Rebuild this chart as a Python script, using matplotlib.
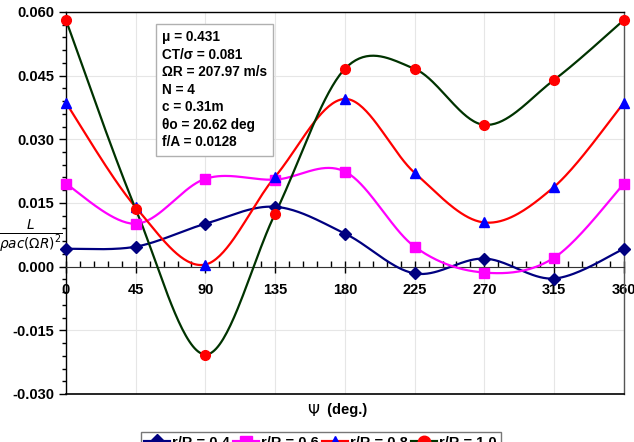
import numpy as np
import matplotlib
matplotlib.use("Agg")
import matplotlib.pyplot as plt
from matplotlib.ticker import MultipleLocator

psi = [0, 45, 90, 135, 180, 225, 270, 315, 360]
r04 = [0.0042, 0.0047, 0.0101, 0.0141, 0.0078, -0.0016, 0.0019, -0.0028, 0.0042]
r06 = [0.0195, 0.0101, 0.0207, 0.0205, 0.0224, 0.0047, -0.0014, 0.0021, 0.0195]
r08 = [0.0386, 0.0140, 0.0005, 0.0212, 0.0395, 0.0221, 0.0104, 0.0188, 0.0386]
r10 = [0.0581, 0.0136, -0.0207, 0.0125, 0.0466, 0.0466, 0.0334, 0.0440, 0.0581]
labels = ["r/R = 0.4", "r/R = 0.6", "r/R = 0.8", "r/R = 1.0"]
info = ["\u03bc = 0.431", "CT/\u03c3 = 0.081", "\u03a9R = 207.97 m/s", "N = 4",
        "c = 0.31m", "\u03b8o = 20.62 deg", "f/A = 0.0128"]

plt.rcParams['font.family'] = ['Liberation Sans', 'DejaVu Sans']


def smooth(x, y, n=40):
    x = np.asarray(x, float)
    y = np.asarray(y, float)
    px = np.concatenate([[x[0]], x, [x[-1]]])
    py = np.concatenate([[y[0]], y, [y[-1]]])
    xs, ys = [], []
    t = np.linspace(0, 1, n)
    for i in range(1, len(px) - 2):
        p0, p1, p2, p3 = (np.array([px[j], py[j]]) for j in (i - 1, i, i + 1, i + 2))
        c1 = p1 + (p2 - p0) / 6.0
        c2 = p2 - (p3 - p1) / 6.0
        b = ((1 - t) ** 3)[:, None] * p1 + (3 * (1 - t) ** 2 * t)[:, None] * c1 \
            + (3 * (1 - t) * t ** 2)[:, None] * c2 + (t ** 3)[:, None] * p2
        xs.append(b[:, 0]); ys.append(b[:, 1])
    return np.concatenate(xs), np.concatenate(ys)


fig = plt.figure(figsize=(6.34, 4.42), dpi=100)
ax = fig.add_axes([0.104, 0.1086, 0.88, 0.8644])

series = [
    (r04, '#000080', '#000080', 'D', 6),
    (r06, '#FF00FF', '#FF00FF', 's', 7),
    (r08, '#FF0000', '#0000FF', '^', 7),
    (r10, '#003300', '#FF0000', 'o', 7),
]
handles = []
for (vals, lc, mc, mk, ms), lab in zip(series, labels):
    sx, sy = smooth(psi, vals)
    ax.plot(sx, sy, color=lc, lw=1.6, zorder=3, clip_on=False)
    ax.plot(psi, vals, linestyle='none', marker=mk, color=mc, markersize=ms,
            markeredgecolor=mc, zorder=4, clip_on=False)
    h, = ax.plot([], [], color=lc, lw=3, marker=mk, markersize=ms + 2,
                 markerfacecolor=mc, markeredgecolor=mc, label=lab)
    handles.append(h)

ax.set_xlim(0, 360)
ax.set_ylim(-0.030, 0.060)
ax.xaxis.set_major_locator(MultipleLocator(45))
ax.xaxis.set_minor_locator(MultipleLocator(9))
ax.yaxis.set_minor_locator(MultipleLocator(0.003))
yt = np.arange(-0.030, 0.0601, 0.015)
ax.set_yticks(yt)
ax.set_yticklabels(["%.3f" % v for v in yt])
ax.grid(True, which='major', color='#e6e6e6', lw=0.8, zorder=0)
ax.set_axisbelow(True)

ax.spines['bottom'].set_position(('data', 0))
ax.spines['bottom'].set_color('#333333')
ax.axhline(-0.030, color='black', lw=1.2, clip_on=False, zorder=5)
for s in ['top', 'left', 'right']:
    ax.spines[s].set_color('black')
    ax.spines[s].set_linewidth(1.0)
ax.spines['right'].set_color('#555555')

ax.tick_params(axis='x', which='major', direction='inout', length=8, width=1,
               pad=8, labelsize=10.5)
ax.tick_params(axis='x', which='minor', direction='in', length=4, width=1)
ax.tick_params(axis='y', which='major', direction='out', length=5, width=1,
               labelsize=10.5)
ax.tick_params(axis='y', which='minor', direction='out', length=3, width=1)
for lab in ax.get_xticklabels() + ax.get_yticklabels():
    lab.set_fontweight('bold')

ax.text(0.172, 0.952, "\n".join(info), transform=ax.transAxes, va='top', ha='left',
        fontsize=9.8, fontweight='bold', linespacing=1.32, zorder=6,
        bbox=dict(boxstyle='square,pad=0.45', facecolor='white', edgecolor='#b0b0b0', lw=1))

fig.text(31 / 634, 1 - 236 / 442, r'$\frac{L}{\rho a c\left(\Omega R\right)^2}$',
         ha='center', va='center', fontsize=14, family='DejaVu Serif')
fig.text(0.505, 1 - 411 / 442, r'$\Psi$', ha='right', va='center', fontsize=11)
fig.text(0.51, 1 - 410 / 442, ' (deg.)', ha='left', va='center', fontsize=10.5,
         fontweight='bold')

leg = fig.legend(handles=handles, loc='upper center', ncol=4,
                 bbox_to_anchor=(321 / 634, 1 - 432 / 442), frameon=True,
                 prop={'weight': 'bold', 'size': 10.5}, handlelength=1.65,
                 handletextpad=0.2, columnspacing=0.3, borderpad=0.25,
                 borderaxespad=0, fancybox=False, edgecolor='#555555')
leg.get_frame().set_linewidth(1)

fig.savefig('out.png', dpi=100)
